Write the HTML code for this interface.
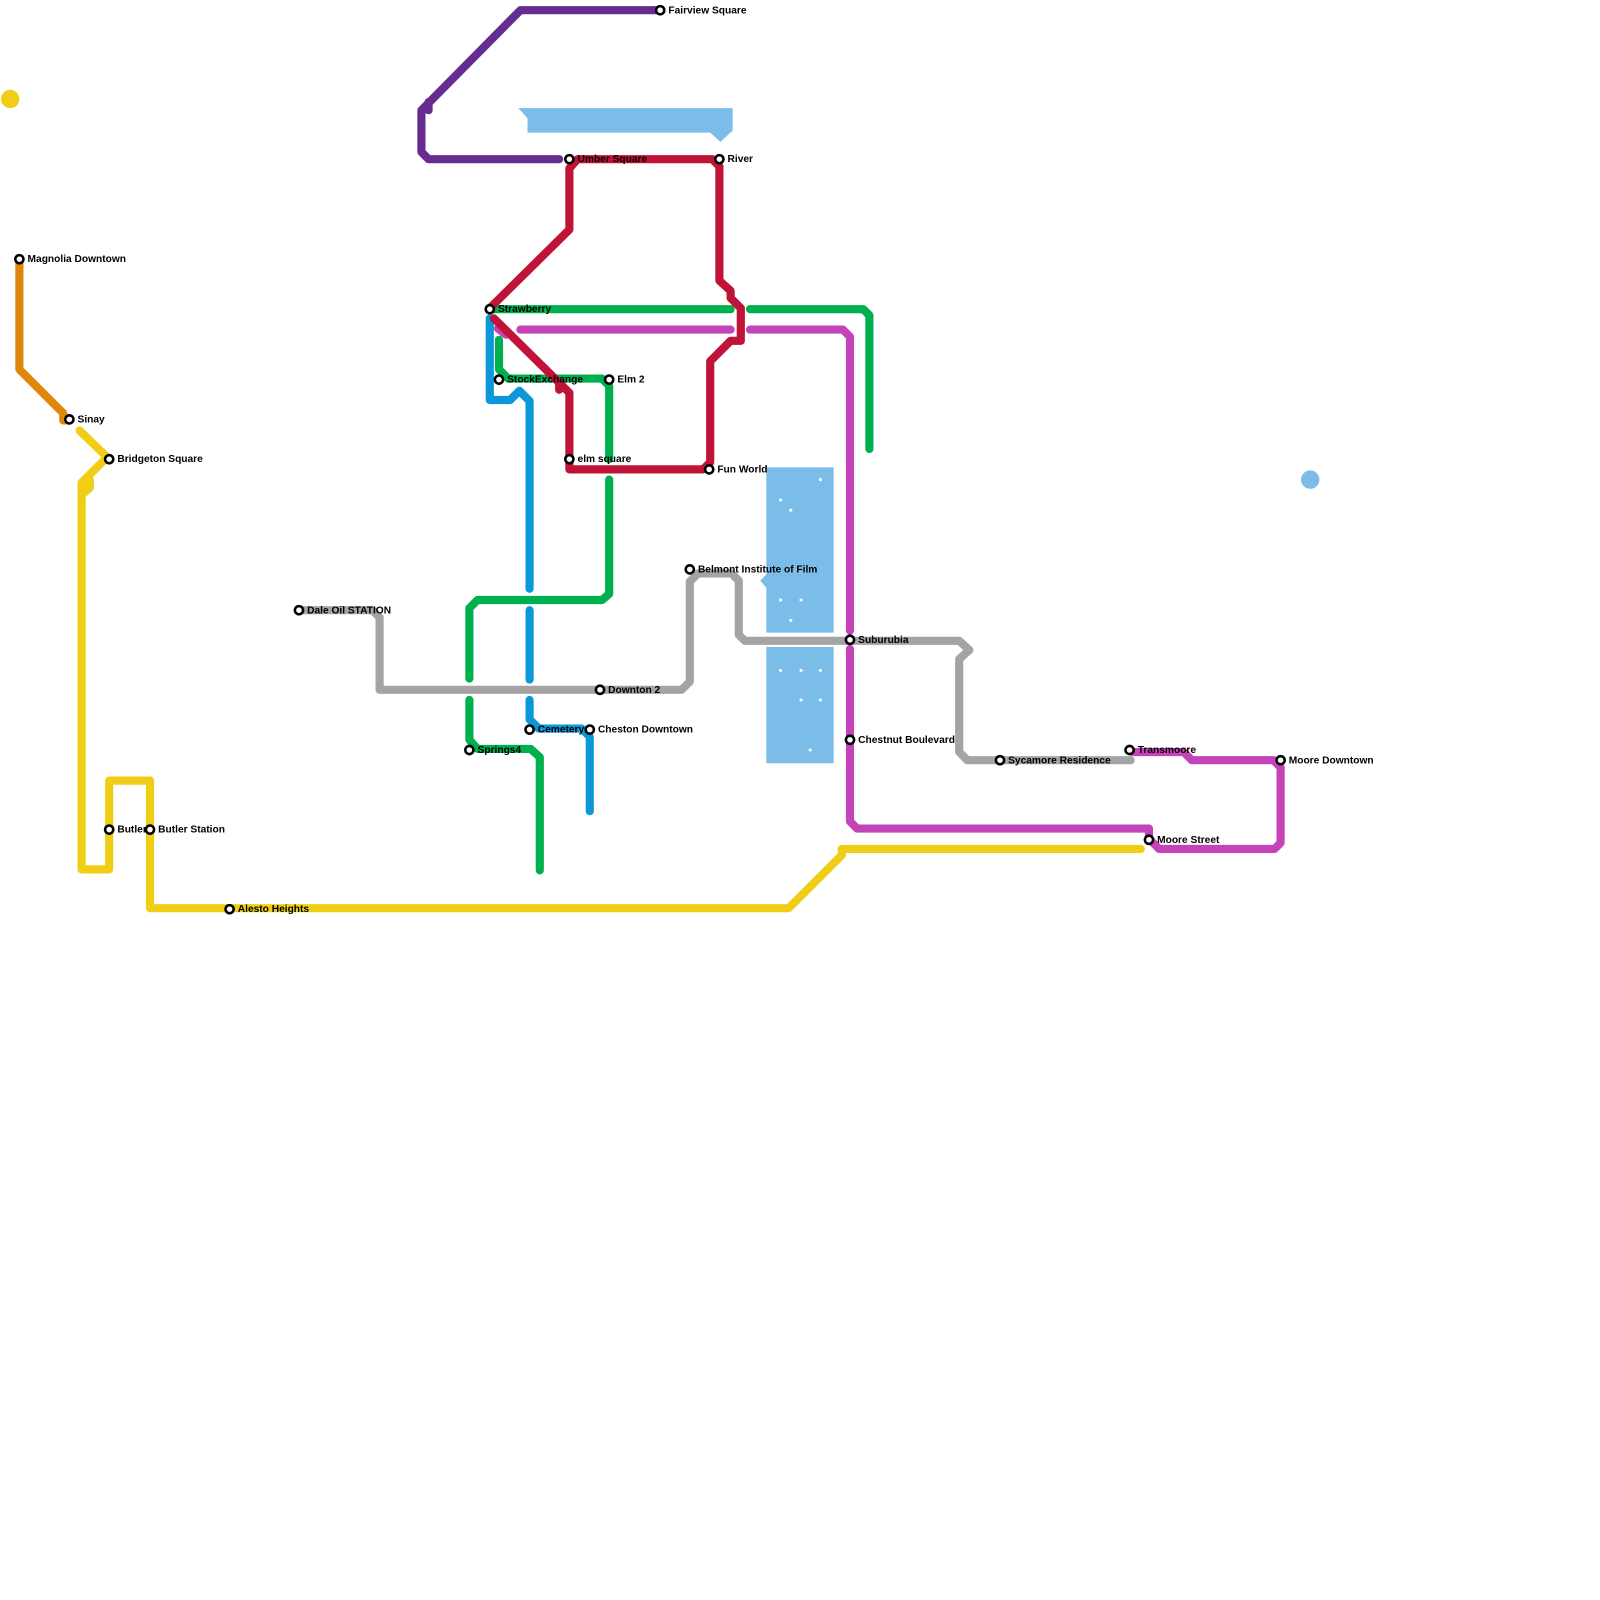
<!DOCTYPE html>
<html><head><style>body{margin:0;background:#fff}svg{display:block}text{font-family:"Liberation Sans",sans-serif;font-weight:bold;font-size:10px;fill:#000}</style></head><body>
<svg width="1600" height="1600" viewBox="0 0 1600 1600">
<g transform="scale(1.0204)">
<g fill="#7bbde8">
<polygon points="508,106 718,106 718,128 706,139 696,130 517,130 517,116"/>
<polygon points="751,458 817,458 817,620 751,620 751,576 745,569 751,563"/>
<rect x="751" y="634" width="66" height="114"/>
<circle cx="1284" cy="470" r="9"/>
</g>
<circle cx="10" cy="97" r="9" fill="#f0ce15"/>
<g fill="#fff"><circle cx="804" cy="470" r="1.5"/><circle cx="765" cy="490" r="1.5"/><circle cx="775" cy="500" r="1.5"/><circle cx="765" cy="588" r="1.5"/><circle cx="785" cy="588" r="1.5"/><circle cx="775" cy="608" r="1.5"/><circle cx="765" cy="657" r="1.5"/><circle cx="785" cy="657" r="1.5"/><circle cx="804" cy="657" r="1.5"/><circle cx="785" cy="686" r="1.5"/><circle cx="804" cy="686" r="1.5"/><circle cx="794" cy="735" r="1.5"/></g>
<g fill="none" stroke-width="8" stroke-linejoin="round" stroke-linecap="round">
<polyline stroke="#662c90" points="548,156 420,156 413,149 413,108 510,10 647,10"/>
<polyline stroke="#662c90" points="420,100 420,108"/>
<polyline stroke="#a4a4a4" points="293,598 365,598 372,605 372,676 668,676 676,668 676,570 684,562 717,562 724,569 724,622 730,628 940,628 950,637 940,646 940,737 948,745 1108,745"/>
<polyline stroke="#e0860b" points="19,254 19,362 62,405 62,412 68,412"/>
<polyline stroke="#f0ce15" points="78,422 105,448 80,473 80,852 107,852 107,765 147,765 147,890 773,890 825,838 825,832 1118,832"/>
<polyline stroke="#f0ce15" points="80,485 88,478 88,470"/>
<polyline stroke="#00b04f" points="484,303 716,303"/>
<polyline stroke="#00b04f" points="735,303 846,303 852,309 852,440"/>
<polyline stroke="#00b04f" points="489,333 489,362 498,371 590,371 597,378 597,450"/>
<polyline stroke="#00b04f" points="597,470 597,582 590,588 468,588 460,596 460,665"/>
<polyline stroke="#00b04f" points="460,686 460,725 468,734 520,734 529,742 529,853"/>
<polyline stroke="#0c98d8" points="480,312 480,392 500,392 509,383 519,393 519,577"/>
<polyline stroke="#0c98d8" points="519,598 519,666"/>
<polyline stroke="#0c98d8" points="519,686 519,705 528,714 570,714 578,722 578,795"/>
<polyline stroke="#c543b9" points="488,322 496,328"/>
<polyline stroke="#c543b9" points="510,323 716,323"/>
<polyline stroke="#c543b9" points="735,323 826,323 833,330 833,618"/>
<polyline stroke="#c543b9" points="833,636 833,805 840,812 1126,812 1126,822 1136,832 1249,832 1255,826 1255,752 1248,745 1168,745 1160,737 1110,737"/>
<polyline stroke="#bf1338" points="480,302 558,225 558,165 566,156 698,156 705,163 705,275 716,285 716,292 726,302 726,334 716,334 696,354 696,453 689,460 558,460 558,385 548,375"/>
<polyline stroke="#bf1338" points="484,312 548,375 548,382"/>
</g>
<g fill="#fff" stroke="#000" stroke-width="2.5">
<circle cx="647" cy="10" r="4"/><circle cx="558" cy="156" r="4"/><circle cx="705" cy="156" r="4"/><circle cx="19" cy="254" r="4"/><circle cx="480" cy="303" r="4"/><circle cx="489" cy="372" r="4"/><circle cx="597" cy="372" r="4"/><circle cx="68" cy="411" r="4"/><circle cx="107" cy="450" r="4"/><circle cx="558" cy="450" r="4"/><circle cx="695" cy="460" r="4"/><circle cx="676" cy="558" r="4"/><circle cx="293" cy="598" r="4"/><circle cx="833" cy="627" r="4"/><circle cx="588" cy="676" r="4"/><circle cx="519" cy="715" r="4"/><circle cx="578" cy="715" r="4"/><circle cx="460" cy="735" r="4"/><circle cx="833" cy="725" r="4"/><circle cx="980" cy="745" r="4"/><circle cx="1107" cy="735" r="4"/><circle cx="1255" cy="745" r="4"/><circle cx="1126" cy="823" r="4"/><circle cx="107" cy="813" r="4"/><circle cx="147" cy="813" r="4"/><circle cx="225" cy="891" r="4"/>
</g>
<g>
<text x="655" y="13">Fairview Square</text><text x="566" y="159">Umber Square</text><text x="713" y="159">River</text><text x="27" y="257">Magnolia Downtown</text><text x="488" y="306">Strawberry</text><text x="497" y="375">StockExchange</text><text x="605" y="375">Elm 2</text><text x="76" y="414">Sinay</text><text x="115" y="453">Bridgeton Square</text><text x="566" y="453">elm square</text><text x="703" y="463">Fun World</text><text x="684" y="561">Belmont Institute of Film</text><text x="301" y="601">Dale Oil STATION</text><text x="841" y="630">Suburubia</text><text x="596" y="679">Downton 2</text><text x="527" y="718">Cemetery</text><text x="586" y="718">Cheston Downtown</text><text x="468" y="738">Springs4</text><text x="841" y="728">Chestnut Boulevard</text><text x="988" y="748">Sycamore Residence</text><text x="1115" y="738">Transmoore</text><text x="1263" y="748">Moore Downtown</text><text x="1134" y="826">Moore Street</text><text x="115" y="816">Butler</text><text x="155" y="816">Butler Station</text><text x="233" y="894">Alesto Heights</text>
</g>
</g>
</svg>
</body></html>
